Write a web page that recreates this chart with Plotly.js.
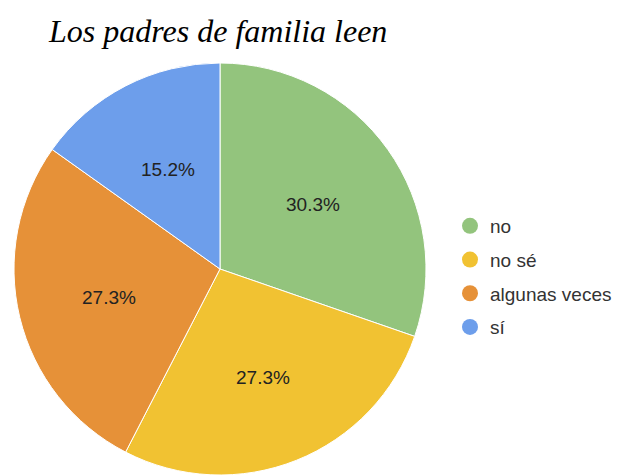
<!DOCTYPE html>
<html>
<head>
<meta charset="utf-8">
<script src="https://cdn.plot.ly/plotly-3.0.1.min.js"></script>
<style>html,body{margin:0;padding:0;background:#fff;}#chart{width:618px;height:475px;}</style>
</head>
<body>
<div id="chart"></div>
<script>
const labels = ["no", "no sé", "algunas veces", "sí"];
const values = [10, 9, 9, 5];
const colors = ["#93c47d", "#f1c232", "#e69138", "#6d9eeb"];
const title = "Los padres de familia leen";

const W = 618, H = 475;
// pie geometry (pixels)
const cx = 220, cy = 271, R = 208;
const domX = [(cx - R) / W, (cx + R) / W];
const domY = [1 - (cy + R) / H, 1 - (cy - R) / H];

const pie = {
  type: "pie",
  labels: labels,
  values: values,
  sort: false,
  direction: "clockwise",
  rotation: 0,
  marker: {colors: colors, line: {color: "#ffffff", width: 1}},
  textinfo: "none",
  hoverinfo: "none",
  showlegend: false,
  domain: {x: domX, y: domY}
};

// percentage labels placed along each slice's mid-angle
const total = values.reduce((a, b) => a + b, 0);
let cum = 0;
const pctAnnotations = values.map((v) => {
  const mid = (cum + v / 2) / total * 2 * Math.PI;
  cum += v;
  const r = 0.55 * R;
  const px = cx + r * Math.sin(mid);
  const py = cy - r * Math.cos(mid);
  return {
    text: (v / total * 100).toFixed(1) + "%",
    xref: "paper", yref: "paper",
    x: px / W, y: 1 - py / H, xanchor: "center", yanchor: "middle",
    showarrow: false,
    font: {family: "Liberation Sans, Arial, sans-serif", size: 19, color: "#222222"}
  };
});

const legendTraces = labels.map((l, i) => ({
  type: "scatter",
  mode: "markers",
  x: [null], y: [null],
  name: l,
  legendgroup: "g" + i,
  marker: {symbol: "circle", size: 16, color: colors[i]},
  showlegend: true,
  hoverinfo: "none"
}));

const layout = {
  width: W, height: H,
  margin: {l: 0, r: 0, t: 0, b: 0},
  paper_bgcolor: "#ffffff",
  plot_bgcolor: "#ffffff",
  xaxis: {visible: false},
  yaxis: {visible: false},
  showlegend: true,
  legend: {
    x: 450 / W, y: 1 - 207 / H, xanchor: "left", yanchor: "top",
    font: {family: "Liberation Sans, Arial, sans-serif", size: 19, color: "#333333"},
    traceorder: "grouped", tracegroupgap: 6,
    itemwidth: 30, bgcolor: "rgba(0,0,0,0)"
  },
  annotations: [{
    text: title, xref: "paper", yref: "paper",
    x: 46 / W, y: 1 - 31 / H, xanchor: "left", yanchor: "middle",
    showarrow: false,
    font: {family: "Liberation Serif, Times New Roman, serif", size: 32, color: "#000000", style: "italic"}
  }].concat(pctAnnotations)
};

Plotly.newPlot("chart", [pie].concat(legendTraces), layout, {displayModeBar: false, staticPlot: true});
</script>
</body>
</html>
